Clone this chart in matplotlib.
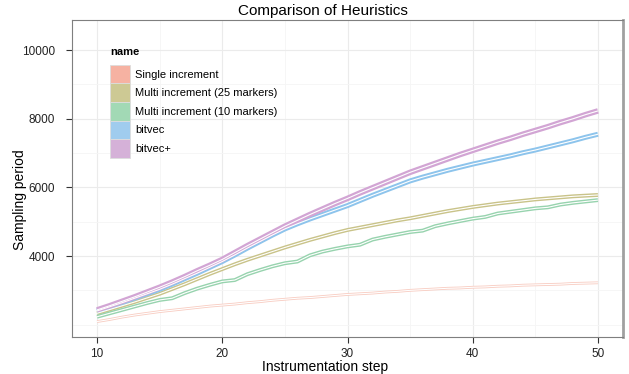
import matplotlib
matplotlib.use("Agg")
import matplotlib.pyplot as plt
from matplotlib.patches import Patch
import numpy as np

plt.rcParams['font.family'] = ['Liberation Sans', 'DejaVu Sans']

# Data
steps = list(range(10, 51))

series_names = ["Single increment", "Multi increment (25 markers)",
                "Multi increment (10 markers)", "bitvec", "bitvec+"]

single_inc = [2090, 2150, 2220, 2280, 2330, 2380, 2420, 2460, 2500, 2540,
              2570, 2600, 2640, 2670, 2710, 2740, 2770, 2790, 2820, 2850,
              2880, 2900, 2920, 2950, 2970, 3000, 3020, 3040, 3060, 3070,
              3090, 3100, 3120, 3130, 3150, 3160, 3170, 3180, 3200, 3210, 3220]

multi_25 = [2330, 2440, 2550, 2660, 2780, 2900, 3040, 3180, 3330, 3480,
            3620, 3760, 3890, 4010, 4130, 4250, 4360, 4470, 4570, 4670,
            4760, 4830, 4900, 4970, 5040, 5100, 5170, 5240, 5310, 5370,
            5430, 5480, 5530, 5570, 5610, 5650, 5680, 5710, 5740, 5760, 5780]

multi_10 = [2230, 2330, 2430, 2530, 2630, 2720, 2770, 2920, 3050, 3160,
            3260, 3300, 3470, 3590, 3700, 3790, 3840, 4020, 4130, 4210,
            4280, 4330, 4480, 4560, 4630, 4700, 4740, 4870, 4950, 5020,
            5090, 5140, 5240, 5290, 5340, 5390, 5420, 5500, 5550, 5590, 5630]

bitvec = [2400, 2520, 2640, 2770, 2900, 3030, 3180, 3340, 3500, 3670,
          3840, 4030, 4230, 4420, 4610, 4790, 4940, 5080, 5210, 5340,
          5470, 5620, 5770, 5910, 6050, 6190, 6300, 6400, 6500, 6590,
          6680, 6760, 6840, 6920, 7010, 7090, 7180, 7270, 7360, 7460, 7550]

bitvec_plus = [2430, 2550, 2680, 2810, 2950, 3090, 3240, 3400, 3570, 3730,
               3900, 4100, 4300, 4490, 4680, 4870, 5040, 5210, 5370, 5530,
               5680, 5840, 5990, 6140, 6290, 6440, 6570, 6700, 6830, 6960,
               7080, 7200, 7320, 7430, 7550, 7660, 7770, 7890, 8000, 8120, 8230]

x_ticks = [10, 20, 30, 40, 50]
y_ticks = [4000, 6000, 8000, 10000]

# colours: line colour, legend key colour, band width
line_colors = ["#F8CCC1", "#C9C389", "#97D3AE", "#8DC4EC", "#D2A5D4"]
key_colors = ["#F6B2A2", "#CDC994", "#A2D9B5", "#A0CCEE", "#D5B1D8"]
band_widths = [2.0, 2.8, 2.8, 3.6, 4.0]

fig = plt.figure(figsize=(6.29, 3.74), dpi=100)
ax = fig.add_axes([72 / 629, 1 - 337 / 374, (623 - 72) / 629, (337 - 20) / 374])

all_series = [single_inc, multi_25, multi_10, bitvec, bitvec_plus]
for vals, col, bw in zip(all_series, line_colors, band_widths):
    ax.plot(steps, vals, color=col, lw=bw, solid_capstyle='butt', zorder=3)
    ax.plot(steps, vals, color="white", lw=0.8, solid_capstyle='butt', zorder=4)

ax.set_xlim(8, 52)
ax.set_ylim(1640, 10880)
ax.set_xticks(x_ticks)
ax.set_yticks(y_ticks)
ax.set_xticks([15, 25, 35, 45], minor=True)
ax.set_yticks([2000, 3000, 5000, 7000, 9000], minor=True)
ax.tick_params(axis='both', which='major', length=4, width=0.8, color="#333333",
               labelsize=8.5, labelcolor="#222222")
ax.tick_params(axis='x', which='major', pad=4)
ax.tick_params(axis='y', which='major', pad=8)
ax.tick_params(axis='both', which='minor', length=0)
ax.grid(True, which='major', color="#EBEBEB", lw=0.8, zorder=0)
ax.grid(True, which='minor', color="#F5F5F5", lw=0.6, zorder=0)
ax.set_axisbelow(True)

for side in ['left', 'bottom', 'top']:
    ax.spines[side].set_color("#7F7F7F")
    ax.spines[side].set_linewidth(0.8)
ax.spines['right'].set_color("#A0A0A0")
ax.spines['right'].set_linewidth(2.0)

fig.text(323 / 629, 1 - 11 / 374, "Comparison of Heuristics", ha='center', va='center',
         fontsize=11, color="black")
fig.text(325 / 629, 1 - 367 / 374, "Instrumentation step", ha='center', va='center',
         fontsize=10, color="black")
fig.text(20 / 629, 1 - 200 / 374, "Sampling period", ha='center', va='center',
         rotation=90, fontsize=10, color="black")

# legend: title as separate text so it sits higher like the reference
fig.text(110 / 629, 1 - 52 / 374, "name", ha='left', va='center',
         fontsize=8, fontweight='bold')
handles = [Patch(facecolor=c, edgecolor="#DDDDDD", lw=0.6) for c in key_colors]
leg = ax.legend(handles, series_names, loc='upper left',
                bbox_to_anchor=(102 / 629, 1 - 57 / 374), bbox_transform=fig.transFigure,
                frameon=False, fontsize=8,
                handlelength=1.8, handleheight=2.2, labelspacing=0.0,
                handletextpad=0.5, borderpad=0.2)

fig.savefig("out.png", dpi=100)
